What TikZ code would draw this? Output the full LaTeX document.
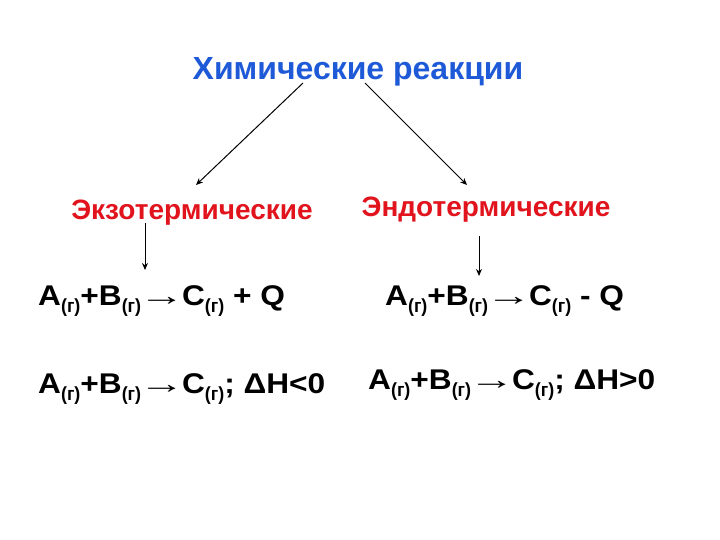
\documentclass[tikz,border=0pt]{standalone}
\usepackage{fontspec}
\setmainfont{Liberation Sans}
\usetikzlibrary{arrows.meta}
\definecolor{titleblue}{RGB}{30,90,215}
\definecolor{headred}{RGB}{225,20,30}
\newcommand{\gsub}{\raisebox{-7pt}{\fontsize{19}{19}\selectfont\scalebox{0.85}[1]{(г)}}}
\newcommand{\eqarrow}{\kern-2pt{\fontseries{m}\selectfont\scalebox{1.45}[1]{→}}\kern-2.5pt}
\newcommand{\eqn}[1]{\scalebox{1.11}[1]{#1}}
\begin{document}
\begin{tikzpicture}[x=1pt,y=-1pt,
  titletext/.style={font=\bfseries\fontsize{32}{36}\selectfont, text=titleblue, inner sep=0pt, anchor=base},
  headtext/.style={font=\bfseries\fontsize{28}{32}\selectfont, text=headred, inner sep=0pt, anchor=base},
  eqtext/.style={font=\bfseries\fontsize{28.5}{34}\selectfont, inner sep=0pt, anchor=base west},
  conn/.style={-{Stealth[length=7pt,width=6pt]}, line width=1pt}]
\useasboundingbox (0,0) rectangle (720,540);
\node[titletext] (title) at (358,80) {Химические реакции};
\node[headtext] (exo) at (192,220) {Экзотермические};
\node[headtext] (endo) at (486,216) {Эндотермические};
\node[eqtext] (e1) at (38,305) {\eqn{A\gsub+B\gsub\eqarrow C\gsub{} + Q}};
\node[eqtext] (e2) at (385,305) {\eqn{A\gsub+B\gsub\eqarrow C\gsub{} - Q}};
\node[eqtext] (e3) at (38,393) {\eqn{A\gsub+B\gsub\eqarrow C\gsub; ΔH<0}};
\node[eqtext] (e4) at (368,389) {\eqn{A\gsub+B\gsub\eqarrow C\gsub; ΔH>0}};
\coordinate (tl) at (303,83);
\coordinate (tr) at (365,83);
\coordinate (el) at (196,185);
\coordinate (er) at (467,185);
\coordinate (vl1) at (145,223);
\coordinate (vl2) at (145,270);
\coordinate (vr1) at (479,236);
\coordinate (vr2) at (479,276);
\draw[conn] (tl) -- (el);
\draw[conn] (tr) -- (er);
\draw[conn] (vl1) -- (vl2);
\draw[conn] (vr1) -- (vr2);
\end{tikzpicture}
\end{document}
